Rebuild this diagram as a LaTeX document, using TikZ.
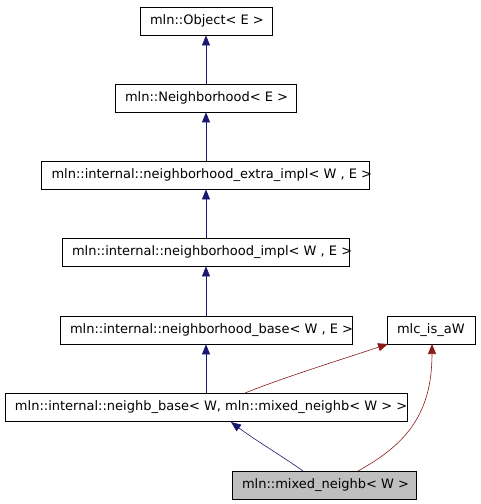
\documentclass[tikz,border=0pt]{standalone}
\usepackage{fontspec}
\setmainfont{DejaVu Sans}
\usetikzlibrary{arrows.meta}
\definecolor{navy}{HTML}{191970}
\definecolor{dred}{HTML}{8B1A1A}
\definecolor{boxgray}{HTML}{BFBFBF}
\newcommand\bxtxt[2]{\makebox[#1][l]{\hspace{10pt}#2}}
\begin{document}
\begin{tikzpicture}[x=1pt,y=-1pt,
  cls/.style={draw=black,fill=white,inner sep=0pt,minimum height=28pt,font=\fontsize{13}{15}\selectfont,line width=0.8pt},
  pub/.style={draw=navy,line width=0.6pt,-{Triangle[length=10pt,width=8pt]}},
  tmpl/.style={draw=dred,line width=0.6pt,-{Triangle[length=10pt,width=8pt]}}]
\useasboundingbox (0,0) rectangle (480,504);
\fill[white] (0,0) rectangle (480,504);
\node[cls] (obj) at (206,21) {\bxtxt{132pt}{mln::Object< E >}};
\node[cls] (nh) at (205.5,98) {\bxtxt{181pt}{mln::Neighborhood< E >}};
\node[cls] (extra) at (205.5,175) {\bxtxt{328pt}{mln::internal::neighborhood\_extra\_impl< W , E >}};
\node[cls] (impl) at (205.5,252) {\bxtxt{287pt}{mln::internal::neighborhood\_impl< W , E >}};
\node[cls] (base) at (206,330) {\bxtxt{292pt}{mln::internal::neighborhood\_base< W , E >}};
\node[cls] (mlc) at (431,330) {\bxtxt{88pt}{mlc\_is\_aW}};
\node[cls] (nb) at (206,407) {\bxtxt{402pt}{mln::internal::neighb\_base< W, mln::mixed\_neighb< W > >}};
\node[cls,fill=boxgray] (mix) at (324,485) {\bxtxt{184pt}{mln::mixed\_neighb< W >}};
\draw[pub] (nh.north -| obj) -- (obj.south);
\draw[pub] (extra.north -| obj) -- (nh.south -| obj);
\draw[pub] (impl.north -| obj) -- (extra.south -| obj);
\draw[pub] (base.north -| obj) -- (impl.south -| obj);
\draw[pub] (nb.north -| obj) -- (base.south -| obj);
\coordinate (nbr) at (245,393);
\coordinate (mlcl) at (388,344);
\draw[tmpl] (nbr) .. controls (285,377) and (340,360) .. (mlcl);
\coordinate (mixl) at (303,471);
\coordinate (nbt) at (231,422);
\draw[pub] (mixl) .. controls (285,458) and (255,440) .. (nbt);
\coordinate (mixr) at (358,471);
\coordinate (mlcb) at (432,344);
\draw[tmpl] (mixr) .. controls (405,445) and (432,415) .. (mlcb);
\end{tikzpicture}
\end{document}
